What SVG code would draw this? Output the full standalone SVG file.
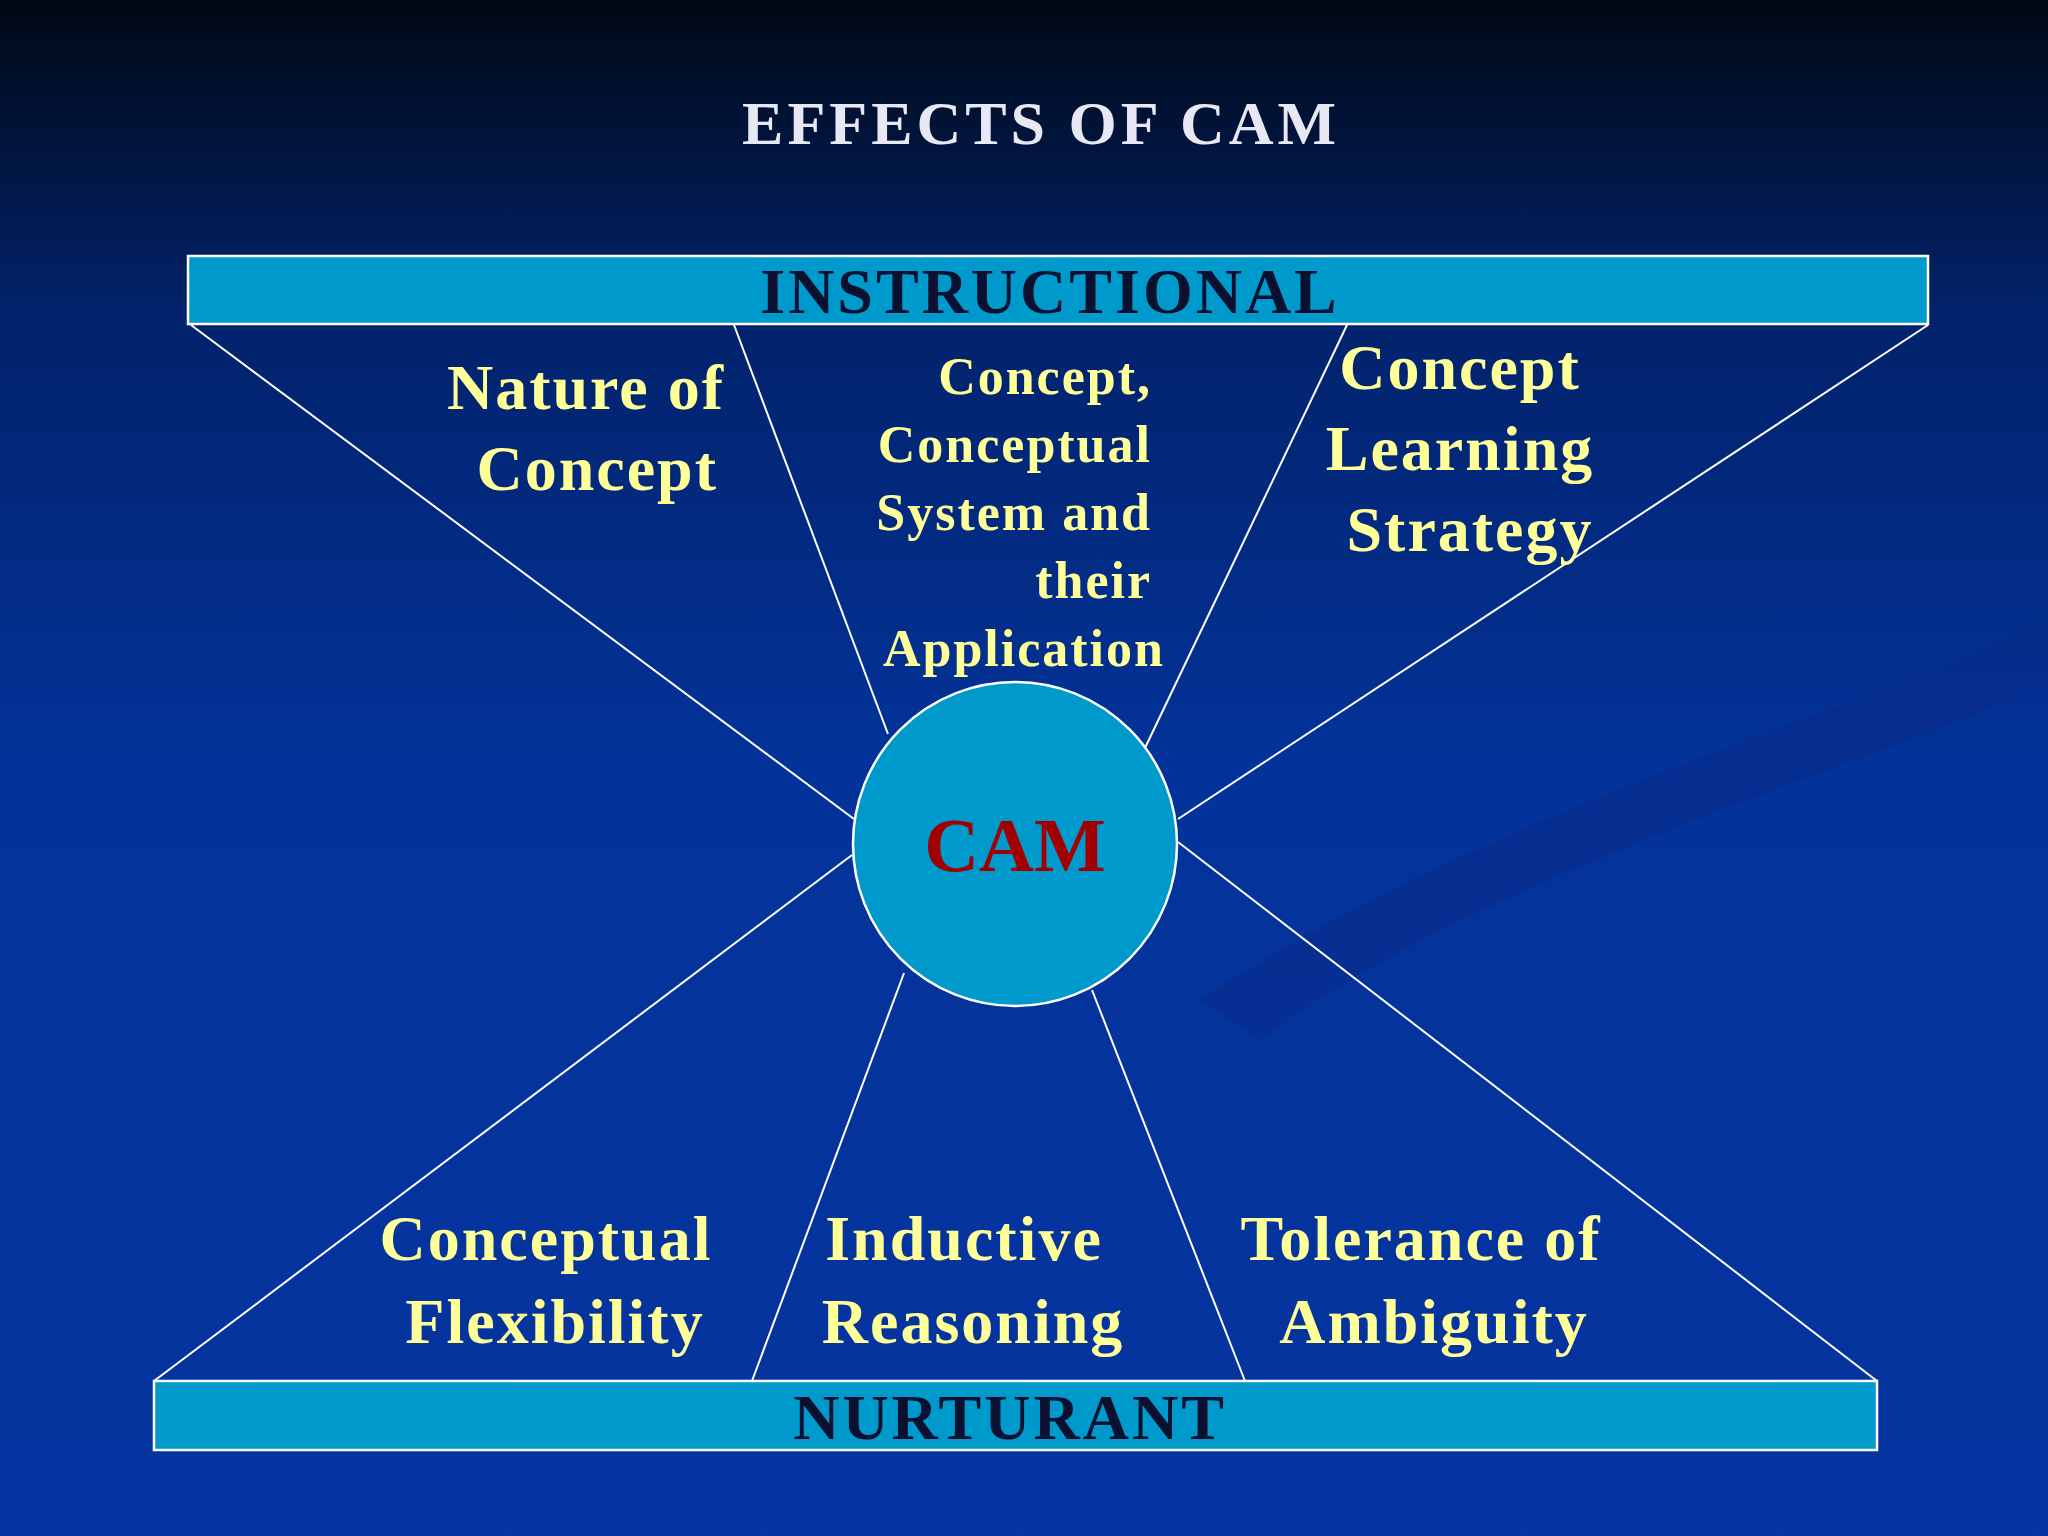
<svg xmlns="http://www.w3.org/2000/svg" width="2048" height="1536" viewBox="0 0 2048 1536">
<defs>
<linearGradient id="bg" x1="0" y1="0" x2="0" y2="1">
<stop offset="0" stop-color="#000814"/>
<stop offset="0.2" stop-color="#02226a"/>
<stop offset="0.5" stop-color="#03339a"/>
<stop offset="1" stop-color="#0634a0"/>
</linearGradient>
<style>
.t{font-family:"Liberation Serif",serif;font-weight:bold;fill:#ffff99;letter-spacing:2px}
.bar{fill:#0099cc;stroke:#ffffff;stroke-width:2.5}
.lbl{font-family:"Liberation Serif",serif;font-weight:bold;fill:#0a1030;font-size:64px;text-anchor:middle;letter-spacing:3px}
.c line{stroke:#ffffff;stroke-width:2}
</style>
</defs>
<rect width="2048" height="1536" fill="url(#bg)"/>
<path d="M1200 1000 C1500 800 1900 700 2048 620 L2048 680 C1900 760 1500 860 1260 1040 Z" fill="#0a2a88" opacity="0.5"/>
<text x="1041" y="144" font-family="Liberation Serif,serif" font-weight="bold" font-size="62" fill="#e8e8f4" text-anchor="middle" letter-spacing="4">EFFECTS OF CAM</text>
<g class="c" id="connectors">
<line x1="191" y1="325" x2="854" y2="819"/>
<line x1="734" y1="325" x2="888" y2="734"/>
<line x1="1347" y1="325" x2="1145" y2="748"/>
<line x1="1928" y1="325" x2="1178" y2="819"/>
<line x1="852" y1="855" x2="154" y2="1381"/>
<line x1="904" y1="973" x2="752" y2="1381"/>
<line x1="1092" y1="990" x2="1245" y2="1381"/>
<line x1="1178" y1="842" x2="1877" y2="1381"/>
</g>
<g id="instructional"><rect class="bar" x="188" y="256" width="1740" height="68"/><text class="lbl" x="1050" y="313">INSTRUCTIONAL</text></g>
<g id="nurturant"><rect class="bar" x="154" y="1381" width="1723" height="69"/><text class="lbl" x="1010" y="1439">NURTURANT</text></g>
<g id="cam"><circle cx="1015" cy="844" r="162" fill="#0099cc" stroke="#ffffff" stroke-width="2.5"/><text x="1015" y="871" font-family="Liberation Serif,serif" font-weight="bold" font-size="76" fill="#a00000" text-anchor="middle">CAM</text></g>
<g id="nature"><text class="t" font-size="64" text-anchor="end"><tspan x="725" y="409">Nature of</tspan><tspan x="718" y="490">Concept</tspan></text></g>
<g id="concept-system"><text class="t" font-size="52" text-anchor="end"><tspan x="1152" y="394">Concept,</tspan><tspan x="1152" y="462">Conceptual</tspan><tspan x="1152" y="530">System and</tspan><tspan x="1152" y="598">their</tspan><tspan x="1165" y="666">Application</tspan></text></g>
<g id="learning"><text class="t" font-size="64" text-anchor="middle"><tspan x="1460" y="389">Concept</tspan><tspan x="1460" y="470">Learning</tspan><tspan x="1470" y="551">Strategy</tspan></text></g>
<g id="flex"><text class="t" font-size="64" text-anchor="middle"><tspan x="546" y="1260">Conceptual</tspan><tspan x="555" y="1343">Flexibility</tspan></text></g>
<g id="inductive"><text class="t" font-size="64" text-anchor="middle"><tspan x="964" y="1260">Inductive</tspan><tspan x="973" y="1343">Reasoning</tspan></text></g>
<g id="tolerance"><text class="t" font-size="64" text-anchor="middle"><tspan x="1421" y="1260">Tolerance of</tspan><tspan x="1434" y="1343">Ambiguity</tspan></text></g>
</svg>
